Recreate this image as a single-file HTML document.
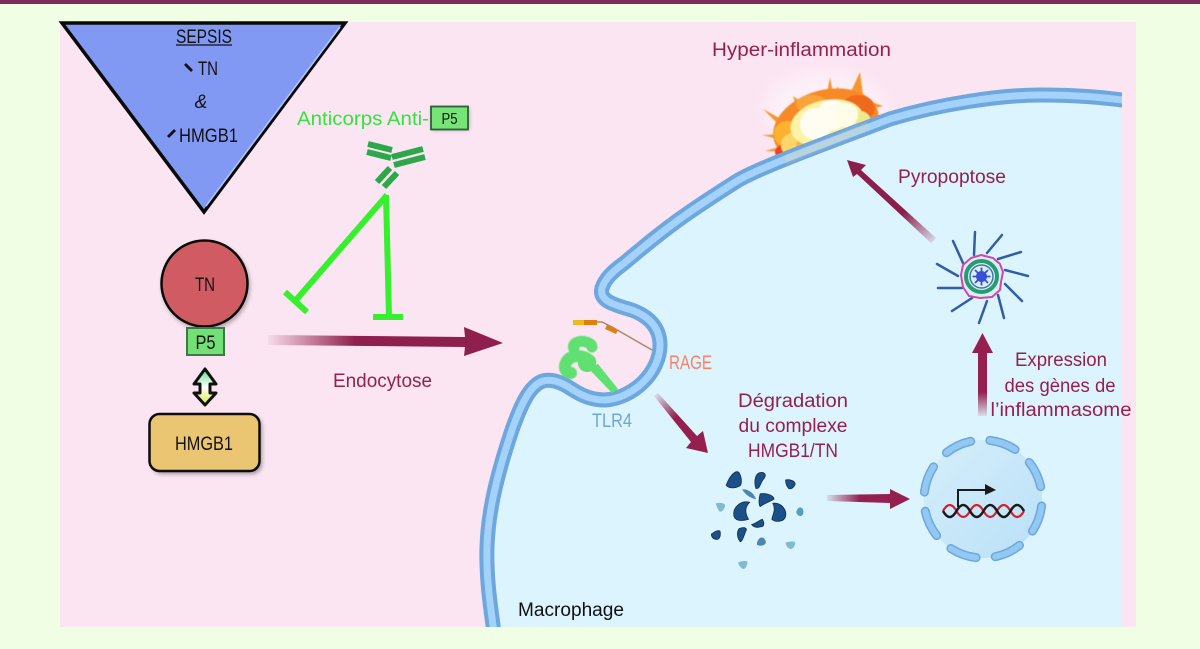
<!DOCTYPE html>
<html><head><meta charset="utf-8"><style>
html,body{margin:0;padding:0;background:#f0ffe3}
svg{display:block}
text{font-family:"Liberation Sans",sans-serif;font-size:19px}
.m{fill:#95204f}
.k{fill:#111}
</style></head><body>
<svg width="1200" height="649" viewBox="0 0 1200 649" xmlns="http://www.w3.org/2000/svg">
<defs>
<linearGradient id="g1" gradientUnits="userSpaceOnUse" x1="268" y1="0" x2="355" y2="0"><stop offset="0" stop-color="#95204f" stop-opacity="0.05"/><stop offset="1" stop-color="#8f1f4c"/></linearGradient>
<linearGradient id="g3" gradientUnits="userSpaceOnUse" x1="827" y1="0" x2="860" y2="0"><stop offset="0" stop-color="#95204f" stop-opacity="0.1"/><stop offset="1" stop-color="#95204f"/></linearGradient>
<linearGradient id="g4" gradientUnits="userSpaceOnUse" x1="0" y1="416" x2="0" y2="392"><stop offset="0" stop-color="#95204f" stop-opacity="0.1"/><stop offset="1" stop-color="#95204f"/></linearGradient>
<linearGradient id="g5" gradientUnits="userSpaceOnUse" x1="936" y1="241" x2="905" y2="211"><stop offset="0" stop-color="#95204f" stop-opacity="0.1"/><stop offset="1" stop-color="#8a1f4c"/></linearGradient>
<linearGradient id="g6" gradientUnits="userSpaceOnUse" x1="655" y1="395" x2="675" y2="418"><stop offset="0" stop-color="#95204f" stop-opacity="0.1"/><stop offset="1" stop-color="#95204f"/></linearGradient>
<linearGradient id="g7" x1="0" x2="0" y1="0" y2="1"><stop offset="0" stop-color="#5fd98a"/><stop offset="0.5" stop-color="#fff"/><stop offset="1" stop-color="#d8f040"/></linearGradient>
<linearGradient id="nuc" x1="0" x2="1" y1="0" y2="1"><stop offset="0" stop-color="#d6effb"/><stop offset="1" stop-color="#b9e0f7"/></linearGradient>
<filter id="b" x="-30%" y="-30%" width="160%" height="160%"><feGaussianBlur stdDeviation="1"/></filter>
<filter id="s" x="-30%" y="-30%" width="160%" height="160%"><feGaussianBlur stdDeviation="0.6"/></filter>
<filter id="sh" x="-30%" y="-30%" width="160%" height="160%"><feGaussianBlur stdDeviation="2"/></filter>
<filter id="big" x="-40%" y="-40%" width="180%" height="180%"><feGaussianBlur stdDeviation="7"/></filter>
<clipPath id="cellclip"><rect x="60" y="22" width="1062" height="605"/></clipPath>
</defs>

<rect x="0" y="0" width="1200" height="4" fill="#7e2a5c"/>
<rect x="60" y="22" width="1076" height="605" fill="#fbe5f2"/>

<!-- explosion (behind the cell) -->
<ellipse cx="825" cy="110" rx="60" ry="38" fill="#fff" opacity="0.4" filter="url(#big)"/>
<g filter="url(#s)">
<g fill="#f7962e">
<polygon points="830,77 835,105 825,105"/>
<polygon points="860,72 864,102 848,98"/>
<polygon points="763,109 790,124 784,130"/>
<polygon points="762,135 790,134 790,142"/>
<polygon points="765,151 790,144 790,152"/>
<polygon points="883,106 866,100 862,112"/>
<polygon points="838,86 842,104 832,104"/>
<polygon points="793,96 805,105 798,112"/>
</g>
<ellipse cx="826" cy="126" rx="54" ry="36" fill="#f78a28" transform="rotate(-16 826 126)"/>
<ellipse cx="858" cy="108" rx="17" ry="13" fill="#ef6a1c"/>
<ellipse cx="812" cy="104" rx="16" ry="9" fill="#f9a43a"/>
<ellipse cx="786" cy="152" rx="11" ry="8" fill="#ef3f20"/>
<circle cx="787" cy="134" r="13" fill="#fbb22e"/>
<circle cx="793" cy="145" r="12" fill="#fdd66a"/>
<circle cx="806" cy="146" r="10" fill="#f9b544"/>
<ellipse cx="827" cy="123" rx="37" ry="23" fill="#fcf3a6" transform="rotate(-12 827 123)"/>
<circle cx="860" cy="122" r="11" fill="#efe98e"/>
<circle cx="816" cy="124" r="16" fill="#fffdf2"/>
<circle cx="832" cy="115" r="15" fill="#fffdf2"/>
<circle cx="846" cy="115" r="12" fill="#fffde8"/>
</g>

<!-- cell -->
<g clip-path="url(#cellclip)">
<path d="M495 640 C491 610 486 580 487 547 C488 515 495 480 513 427 C520 408 527 392 536 385 C545 377 558 380 570 388 C582 396 592 400 605 400 C634 398 660 372 660 345 C660 325 645 313 625 308 C612 304 599 300 602 288 C605 279 612 272 623 264 C640 250 655 237 673 224 C690 211 715 195 737 181 C760 167 835 140 890 119 C940 104 1000 95 1040 95 C1075 95 1100 97 1130 101 L1130 640 Z" fill="#dcf4fd"/>
<path d="M495 640 C491 610 486 580 487 547 C488 515 495 480 513 427 C520 408 527 392 536 385 C545 377 558 380 570 388 C582 396 592 400 605 400 C634 398 660 372 660 345 C660 325 645 313 625 308 C612 304 599 300 602 288 C605 279 612 272 623 264 C640 250 655 237 673 224 C690 211 715 195 737 181 C760 167 835 140 890 119 C940 104 1000 95 1040 95 C1075 95 1100 97 1130 101" fill="none" stroke="#6ea6de" stroke-width="15"/>
<path d="M495 640 C491 610 486 580 487 547 C488 515 495 480 513 427 C520 408 527 392 536 385 C545 377 558 380 570 388 C582 396 592 400 605 400 C634 398 660 372 660 345 C660 325 645 313 625 308 C612 304 599 300 602 288 C605 279 612 272 623 264 C640 250 655 237 673 224 C690 211 715 195 737 181 C760 167 835 140 890 119 C940 104 1000 95 1040 95 C1075 95 1100 97 1130 101" fill="none" stroke="#a3d2fa" stroke-width="7"/>
</g>
<path d="M785 160 C810 150 840 138 868 126" stroke="#e8d8a8" stroke-width="8" fill="none" opacity="0.3" filter="url(#b)"/>

<!-- triangle -->
<polygon points="62,23 345,23 204,212" fill="#8299f3" stroke="#0a0a0a" stroke-width="3.5" stroke-linejoin="miter"/>
<line x1="340" y1="27" x2="206" y2="206" stroke="#b6c6fb" stroke-width="1.5"/>
<text x="204" y="43" text-anchor="middle" class="k" textLength="56" lengthAdjust="spacingAndGlyphs">SEPSIS</text>
<line x1="176" y1="45" x2="232" y2="45" stroke="#111" stroke-width="1.2"/>
<line x1="185" y1="64" x2="192" y2="71" stroke="#111" stroke-width="2.8"/>
<text x="198" y="75" class="k" textLength="20" lengthAdjust="spacingAndGlyphs">TN</text>
<text x="201" y="108" text-anchor="middle" class="k" font-style="italic">&amp;</text>
<line x1="168" y1="137" x2="175" y2="130" stroke="#111" stroke-width="2.8"/>
<text x="179" y="142" class="k" textLength="59" lengthAdjust="spacingAndGlyphs">HMGB1</text>

<!-- Anticorps -->
<text x="297" y="125" fill="#35e23c" textLength="132" lengthAdjust="spacingAndGlyphs">Anticorps Anti-</text>
<rect x="432" y="108" width="37" height="22" fill="#000" opacity="0.3" filter="url(#sh)"/>
<rect x="431" y="106.500" width="37" height="23" fill="#76e476" stroke="#2d5e3a" stroke-width="1.800"/>
<text x="449.500" y="124" text-anchor="middle" class="k" style="font-size:16px" textLength="16" lengthAdjust="spacingAndGlyphs">P5</text>

<!-- antibody -->
<g stroke="#2ca84a" stroke-width="6" fill="none">
<line x1="368" y1="144" x2="392" y2="150"/><line x1="367" y1="152" x2="391" y2="158"/>
<line x1="392" y1="157" x2="423" y2="149"/><line x1="394" y1="165" x2="425" y2="157"/>
<line x1="390" y1="168" x2="377" y2="182"/><line x1="397" y1="173" x2="384" y2="187"/>
</g>

<!-- inhibitors -->
<g stroke="#36f02e" stroke-width="6" fill="none">
<path d="M387 195 L296 300"/>
<path d="M386 195 L389 317"/>
<path d="M285 292 L307 312"/>
<path d="M373 317 L403 317"/>
</g>

<!-- TN -->
<circle cx="206" cy="286" r="44" fill="#000" opacity="0.3" filter="url(#sh)"/>
<circle cx="204.500" cy="283.500" r="43" fill="#d05b63" stroke="#0a0a0a" stroke-width="2.500"/>
<text x="205" y="291" text-anchor="middle" class="k" textLength="20" lengthAdjust="spacingAndGlyphs">TN</text>
<rect x="187" y="328" width="37" height="27" fill="#72e075" stroke="#3a7a4a" stroke-width="2"/>
<text x="205.500" y="349" text-anchor="middle" class="k" textLength="20" lengthAdjust="spacingAndGlyphs">P5</text>

<!-- double arrow -->
<path d="M205 369 L216 384 L210 384 L210 393 L216 393 L205 405 L194 393 L200 393 L200 384 L194 384 Z" fill="url(#g7)" stroke="#111" stroke-width="3" stroke-linejoin="round"/>

<!-- HMGB1 -->
<rect x="152" y="416" width="110" height="58" rx="10" fill="#000" opacity="0.35" filter="url(#sh)"/>
<rect x="149.500" y="414" width="110" height="57" rx="10" fill="#ebc672" stroke="#0d0d0d" stroke-width="2.500"/>
<text x="204" y="450" text-anchor="middle" class="k" textLength="58" lengthAdjust="spacingAndGlyphs">HMGB1</text>

<!-- Endocytose arrow -->
<polygon points="268,335 465,337 464,327 503,343 464,356 465,347 268,345" fill="url(#g1)"/>
<text x="333" y="387" class="m" textLength="99" lengthAdjust="spacingAndGlyphs">Endocytose</text>

<!-- RAGE -->
<path d="M597 322 L602 322 L612 327 L652 350" stroke="#a88a6a" stroke-width="1.500" fill="none"/>
<rect x="573" y="320" width="13" height="5" fill="#f2b81e"/>
<rect x="584" y="320" width="13" height="5" fill="#dd8010"/>
<path d="M606 327 L617 332" stroke="#dd8010" stroke-width="4.500"/>
<text x="669" y="369" fill="#f98068" textLength="43" lengthAdjust="spacingAndGlyphs">RAGE</text>

<!-- TLR4 -->
<g fill="none" stroke="#5fe070" stroke-linecap="round" filter="url(#s)">
<path d="M574 349 C571 343 580 340 586 342 C590 343 592 345 592 347" stroke-width="11"/>
<path d="M590 361 C584 355 572 354 567 361 C563 367 565 372 571 373" stroke-width="12"/>
</g>
<circle cx="587" cy="363" r="9" fill="#5fe070"/>
<polygon points="588,368 598,364 618,389 612,393" fill="#5fe070"/>
<text x="592" y="427" fill="#6fa6d4" textLength="40" lengthAdjust="spacingAndGlyphs">TLR4</text>

<!-- degradation arrow -->
<polygon points="654,396 658,393 697,436 703,431 708,453 686,448 691,442" fill="url(#g6)"/>
<text x="793" y="407" text-anchor="middle" class="m" textLength="110" lengthAdjust="spacingAndGlyphs">Dégradation</text>
<text x="793" y="432" text-anchor="middle" class="m" textLength="109" lengthAdjust="spacingAndGlyphs">du complexe</text>
<text x="793" y="457" text-anchor="middle" class="m" textLength="90" lengthAdjust="spacingAndGlyphs">HMGB1/TN</text>

<!-- fragments -->
<g transform="translate(757 515) scale(1.06) translate(-757 -515)">
<g fill="#1b5188" stroke="#12304f" stroke-width="0.800">
<path d="M728 487 C731 478 737 472 740 475 C743 480 743 487 740 488 C736 490 730 490 728 487 Z"/>
<path d="M756 490 C754 484 755 476 760 475 C764 474 766 477 764 480 C760 484 760 490 757 490 Z"/>
<path d="M784 482 C788 481 793 483 793 486 C792 489 789 491 787 490 C785 488 784 485 784 482 Z"/>
<path d="M760 495 C767 494 773 497 773 500 C770 502 764 504 760 507 C758 504 759 499 760 495 Z"/>
<path d="M750 503 C742 501 735 507 735 514 C735 521 743 521 749 519 C746 514 745 508 750 503 Z"/>
<path d="M772 504 C780 503 785 510 784 516 C783 522 774 522 771 519 C772 514 775 510 772 504 Z"/>
<path d="M752 524 C756 523 759 520 762 519 C764 522 764 526 761 526 C758 527 754 527 752 524 Z"/>
<path d="M740 528 C744 526 747 527 747 529 C745 533 743 541 741 540 C738 536 738 531 740 528 Z"/>
<path d="M714 533 C717 531 720 529 722 530 C723 534 722 538 719 538 C716 538 714 536 714 533 Z"/>
</g>
<g fill="#4b85b0"><path d="M743 491 C748 490 754 494 756 500 C752 500 746 496 743 491 Z"/><path d="M757 541 C759 535 763 535 765 539 C767 544 759 545 757 543 Z"/></g>
<g fill="#82bad0">
<path d="M718 504 C722 503 727 504 727 506 C726 510 724 512 722 512 C720 510 719 507 718 504 Z"/>
<path d="M794 512 C796 507 798 507 800 509 C802 513 800 516 798 516 C796 516 794 514 794 512 Z" fill="#5a9cc0"/>
<path d="M784 541 C788 540 792 539 793 541 C793 545 790 548 788 547 C786 546 784 544 784 541 Z"/>
<path d="M739 560 C742 558 747 558 748 559 C748 563 746 566 744 566 C742 565 740 563 739 560 Z"/>
</g>
</g>

<!-- arrow to nucleus -->
<polygon points="827,495 890,494 890,489 910,499 890,509 890,503 827,501" fill="url(#g3)"/>

<!-- nucleus -->
<circle cx="983" cy="499" r="59" fill="url(#nuc)"/>
<circle cx="983" cy="499" r="59" fill="none" stroke="#6ea6de" stroke-width="9" stroke-linecap="round" stroke-dasharray="27 19.300" stroke-dashoffset="-7"/>
<circle cx="983" cy="499" r="59" fill="none" stroke="#93c8f3" stroke-width="6" stroke-linecap="round" stroke-dasharray="27 19.300" stroke-dashoffset="-7"/>
<path d="M943 511 q6.750 -12 13.500 0 t13.500 0 t13.500 0 t13.500 0 t13.500 0 t13.500 0" stroke="#d81c2c" stroke-width="2.200" fill="none"/>
<path d="M943 511 q6.750 12 13.500 0 t13.500 0 t13.500 0 t13.500 0 t13.500 0 t13.500 0" stroke="#1a1a1a" stroke-width="2.500" fill="none"/>
<path d="M958 507 L958 490 L985 490" stroke="#1a1a1a" stroke-width="2" fill="none"/>
<polygon points="985,484 996,490 985,495" fill="#1a1a1a"/>

<!-- up arrow -->
<polygon points="978,416 978,353 972,353 982.500,333 993,353 987,353 987,416" fill="url(#g4)"/>
<text x="1061" y="366" text-anchor="middle" class="m" textLength="92" lengthAdjust="spacingAndGlyphs">Expression</text>
<text x="1060" y="392" text-anchor="middle" class="m" textLength="111" lengthAdjust="spacingAndGlyphs">des gènes de</text>
<text x="1061" y="416" text-anchor="middle" class="m" textLength="141" lengthAdjust="spacingAndGlyphs">l’inflammasome</text>

<!-- inflammasome -->
<g stroke="#2f5ea8" stroke-width="2.500" fill="none" stroke-linecap="round">
<line x1="974" y1="255" x2="975" y2="232"/>
<line x1="987" y1="253" x2="1002" y2="235"/>
<line x1="998" y1="259" x2="1021" y2="252"/>
<line x1="1005" y1="270" x2="1028" y2="276"/>
<line x1="1005" y1="284" x2="1022" y2="301"/>
<line x1="998" y1="295" x2="1004" y2="318"/>
<line x1="987" y1="301" x2="979" y2="323"/>
<line x1="972" y1="298" x2="952" y2="311"/>
<line x1="962" y1="288" x2="938" y2="288"/>
<line x1="958" y1="276" x2="937" y2="264"/>
<line x1="963" y1="263" x2="953" y2="241"/>
</g>
<polygon points="981,255 993,258 1000,264 1003,272 1001,282 1000,290 992,297 980,298 969,296 963,287 961,275 963,265 971,258" fill="#d8f0f4" stroke="#d045b0" stroke-width="2"/>
<circle cx="981.500" cy="276.500" r="15.500" fill="none" stroke="#2a9a70" stroke-width="4"/>
<circle cx="981.500" cy="276.500" r="11.500" fill="#dcf0f8" stroke="#3a7aaa" stroke-width="1.500"/>
<circle cx="981.500" cy="276.500" r="5.500" fill="#3a4fd8"/>
<g stroke="#3a4fd8" stroke-width="1.800"><line x1="972.500" y1="276.500" x2="990.500" y2="276.500"/><line x1="981.500" y1="267.500" x2="981.500" y2="285.500"/><line x1="975" y1="270" x2="988" y2="283"/><line x1="988" y1="270" x2="975" y2="283"/></g>

<!-- pyroptosis arrow -->
<polygon points="847,160 866,165 861,170 936,238 931,243 857,174 853,177" fill="url(#g5)"/>
<text x="898" y="183" class="m" textLength="108" lengthAdjust="spacingAndGlyphs">Pyropoptose</text>
<text x="712" y="56" class="m" textLength="179" lengthAdjust="spacingAndGlyphs">Hyper-inflammation</text>

<text x="518" y="616" class="k" textLength="106" lengthAdjust="spacingAndGlyphs">Macrophage</text>
</svg>
</body></html>
